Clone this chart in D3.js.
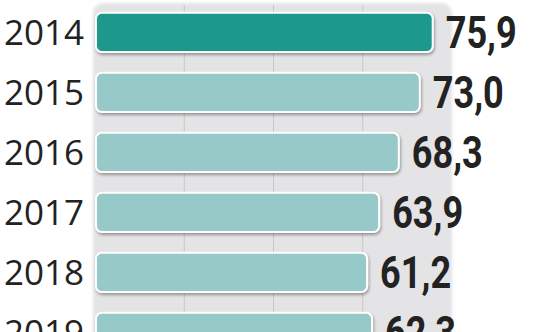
<!DOCTYPE html>
<html>
<head>
<meta charset="utf-8">
<script src="https://cdn.jsdelivr.net/npm/d3@7"></script>
<style>
  body { margin: 0; background: #fff; }
  .year-label { font-family: "Open Sans", sans-serif; font-size: 35px; fill: #222; }
  .value-label { font-family: Roboto, "DejaVu Sans", sans-serif; font-weight: bold; font-size: 45px; fill: #222; }
</style>
</head>
<body>
<div id="chart"></div>
<script>
// data
const years = ["2014", "2015", "2016", "2017", "2018", "2019"];
const values = [75.9, 73.0, 68.3, 63.9, 61.2, 62.3];
const valueLabels = ["75,9", "73,0", "68,3", "63,9", "61,2", "62,3"];
const gridTicks = [20, 40, 60];
const highlightYear = "2014";

const width = 536, height = 332;

const svg = d3.select("#chart").append("svg")
    .attr("width", width)
    .attr("height", height);

const defs = svg.append("defs");
const shadow = defs.append("filter").attr("id", "barShadow")
    .attr("x", "-10%").attr("y", "-20%").attr("width", "130%").attr("height", "160%");
shadow.append("feDropShadow")
    .attr("dx", 1).attr("dy", 2).attr("stdDeviation", 1.5)
    .attr("flood-color", "#000").attr("flood-opacity", 0.35);

const soft = defs.append("filter").attr("id", "panelSoft");
soft.append("feGaussianBlur").attr("stdDeviation", 1.5);

const xScale = d3.scaleLinear().domain([0, 80]).range([95, 452]);
const yScale = d3.scaleBand().domain(years).range([2.4, 362.4])
    .paddingInner(0.31).paddingOuter(0.155);

// grey background panel
svg.append("rect")
    .attr("x", xScale(0) - 2)
    .attr("y", 3)
    .attr("width", xScale(80) - xScale(0) + 2)
    .attr("height", height + 20)
    .attr("rx", 10)
    .attr("fill", "#e4e4e6")
    .attr("filter", "url(#panelSoft)");

// gridlines
svg.selectAll(".grid")
    .data(gridTicks)
    .enter()
    .append("line")
    .attr("class", "grid")
    .attr("x1", d => xScale(d))
    .attr("x2", d => xScale(d))
    .attr("y1", 5)
    .attr("y2", height)
    .attr("stroke", "#c6c6c8")
    .attr("stroke-width", 1);

// bars
svg.selectAll(".bar")
    .data(years)
    .enter()
    .append("rect")
    .attr("class", "bar")
    .attr("x", xScale(0) + 1)
    .attr("y", d => yScale(d) + 1)
    .attr("width", (d, i) => xScale(values[i]) - xScale(0) - 2)
    .attr("height", yScale.bandwidth() - 2)
    .attr("rx", 6)
    .attr("fill", d => d === highlightYear ? "#1f998c" : "#96c9c7")
    .attr("stroke", "#fff")
    .attr("stroke-width", 2)
    .attr("filter", "url(#barShadow)");

// year labels
svg.selectAll(".year-label")
    .data(years)
    .enter()
    .append("text")
    .attr("class", "year-label")
    .attr("x", 84)
    .attr("y", d => yScale(d) + yScale.bandwidth() / 2 + 12.5)
    .attr("text-anchor", "end")
    .text(d => d);

// value labels, squeezed to the condensed width of the original
svg.selectAll(".value-label")
    .data(years)
    .enter()
    .append("text")
    .attr("class", "value-label")
    .attr("x", (d, i) => xScale(values[i]) + 12)
    .attr("y", d => yScale(d) + yScale.bandwidth() / 2 + 16)
    .attr("textLength", 71)
    .attr("lengthAdjust", "spacingAndGlyphs")
    .text((d, i) => valueLabels[i]);
</script>
</body>
</html>
